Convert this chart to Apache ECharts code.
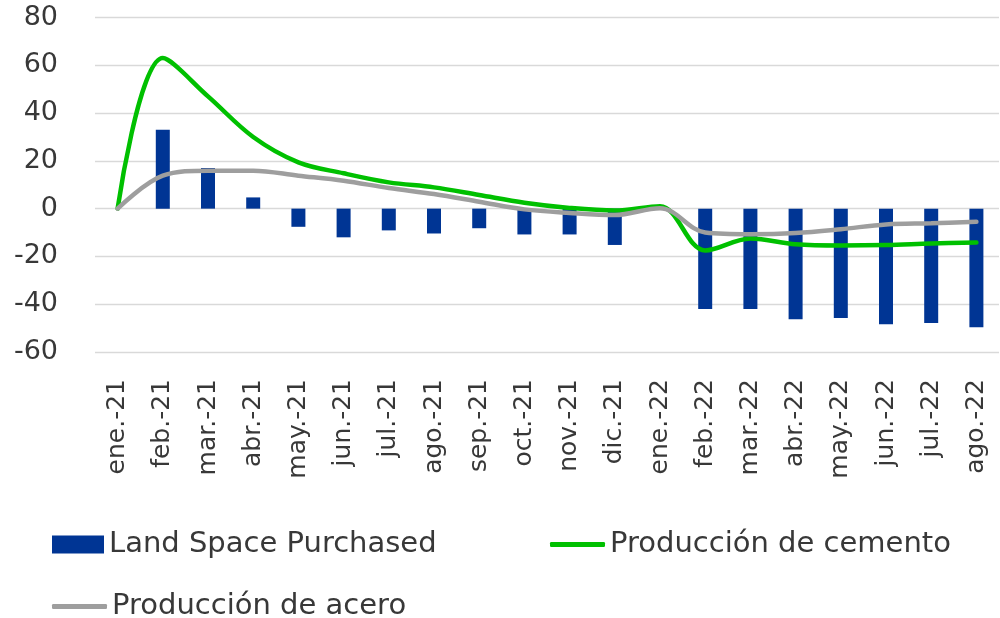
<!DOCTYPE html>
<html>
<head>
<meta charset="utf-8">
<script src="https://cdn.jsdelivr.net/npm/echarts@6/dist/echarts.min.js"></script>
<style>
  html, body { margin: 0; padding: 0; background: #fff; }
  #chart { width: 1000px; height: 618px; }
</style>
</head>
<body>
<div id="chart"></div>
<script>
// categorías (meses)
const months = ['ene.-21', 'feb.-21', 'mar.-21', 'abr.-21', 'may.-21', 'jun.-21', 'jul.-21',
  'ago.-21', 'sep.-21', 'oct.-21', 'nov.-21', 'dic.-21', 'ene.-22', 'feb.-22', 'mar.-22',
  'abr.-22', 'may.-22', 'jun.-22', 'jul.-22', 'ago.-22']

const landSpace = [0, 33, 17, 4.7, -7.6, -12, -9.1, -10.4, -8.2, -10.8, -10.8, -15.2, 0,
  -42, -42, -46.3, -45.8, -48.4, -47.9, -49.6]

const cemento = [0, 63, 47, 30, 19.4, 14.8, 11, 8.9, 5.7, 2.5, 0.3, -0.8, 1,
  -17.5, -12.5, -14.9, -15.4, -15.2, -14.6, -14.2]

const acero = [0, 13.8, 15.9, 15.9, 13.8, 11.7, 8.6, 6.1, 2.9, -0.3, -1.8, -2.7, 0.2,
  -10, -10.7, -10.2, -8.6, -6.6, -6.1, -5.5]

const yTicks = { min: -60, max: 80, interval: 20 }

const font = 'DejaVu Sans'
const textColor = '#383838'

const chart = echarts.init(document.getElementById('chart'))

const legendBase = {
  orient: 'horizontal',
  itemGap: 0,
  padding: 0,
  textStyle: { fontFamily: font, fontSize: 29, color: textColor, padding: [0, 0, 0, 0] }
}

const option = {
  animation: false,
  grid: { left: 95, right: 1, top: 17.5, bottom: 266 },
  legend: [
    Object.assign({}, legendBase, {
      left: 52, top: 530,
      icon: 'rect', itemWidth: 52, itemHeight: 18,
      data: ['Land Space Purchased']
    }),
    Object.assign({}, legendBase, {
      left: 550, top: 530,
      icon: 'roundRect', itemWidth: 55, itemHeight: 5,
      data: ['Producción de cemento']
    }),
    Object.assign({}, legendBase, {
      left: 52, top: 592,
      icon: 'roundRect', itemWidth: 55, itemHeight: 5,
      data: ['Producción de acero']
    })
  ],
  xAxis: {
    type: 'category',
    data: months,
    position: 'bottom',
    axisLine: { show: false },
    axisTick: { show: false },
    axisLabel: {
      rotate: 90,
      margin: 27,
      fontFamily: font,
      fontSize: 25,
      color: textColor,
      interval: 0
    }
  },
  yAxis: {
    type: 'value',
    min: yTicks.min,
    max: yTicks.max,
    interval: yTicks.interval,
    axisLine: { show: false },
    axisTick: { show: false },
    axisLabel: { margin: 37, fontFamily: font, fontSize: 27, color: textColor },
    splitLine: { lineStyle: { color: '#d9d9d9', width: 1.3 } }
  },
  series: [
    {
      name: 'Land Space Purchased',
      type: 'bar',
      data: landSpace,
      barWidth: 14,
      itemStyle: { color: '#003594' }
    },
    {
      name: 'Producción de cemento',
      type: 'line',
      data: cemento,
      smooth: 0.35,
      showSymbol: false,
      symbol: 'none',
      lineStyle: { color: '#00c000', width: 4.5, cap: 'round' },
      itemStyle: { color: '#00c000' }
    },
    {
      name: 'Producción de acero',
      type: 'line',
      data: acero,
      smooth: 0.35,
      showSymbol: false,
      symbol: 'none',
      lineStyle: { color: '#9e9e9e', width: 4.5, cap: 'round' },
      itemStyle: { color: '#9e9e9e' }
    }
  ]
}

chart.setOption(option)
</script>
</body>
</html>
